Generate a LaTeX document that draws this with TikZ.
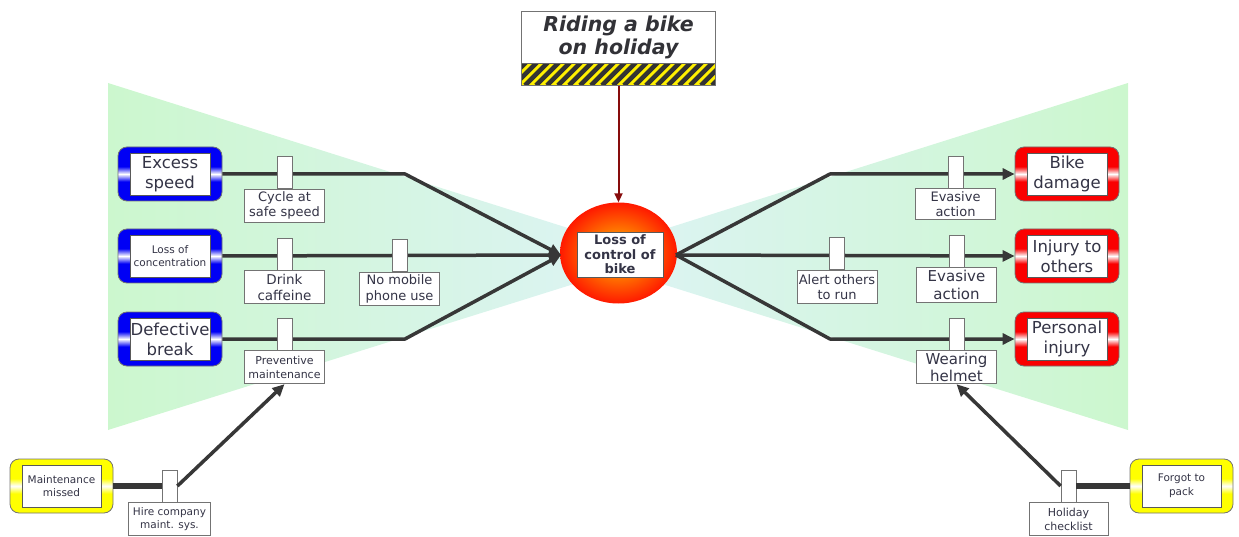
\documentclass[tikz,border=0pt]{standalone}
\usepackage{fontspec}
\setmainfont{DejaVu Sans}
\usetikzlibrary{shapes.geometric,arrows.meta,calc}

\definecolor{txt}{RGB}{52,52,70}
\definecolor{titletxt}{RGB}{50,50,55}
\definecolor{bowgreen}{RGB}{204,247,206}
\definecolor{bowcyan}{RGB}{222,243,247}
\definecolor{linegray}{RGB}{55,55,55}
\definecolor{cblue}{RGB}{0,0,245}
\definecolor{cred}{RGB}{250,0,0}
\definecolor{cyellow}{RGB}{255,255,0}
\definecolor{hazyellow}{RGB}{255,240,0}
\definecolor{evred}{RGB}{135,12,12}
\definecolor{ballin}{RGB}{255,200,0}
\definecolor{ballmid}{RGB}{255,135,0}
\definecolor{ballout}{RGB}{255,25,0}

% frames: solid colour with a narrow white band across the middle
\pgfdeclareverticalshading{blueband}{100bp}{color(0bp)=(cblue); color(25bp)=(cblue); color(43bp)=(cblue); color(50bp)=(white); color(57bp)=(cblue); color(75bp)=(cblue); color(100bp)=(cblue)}
\pgfdeclareverticalshading{redband}{100bp}{color(0bp)=(cred); color(25bp)=(cred); color(43bp)=(cred); color(50bp)=(white); color(57bp)=(cred); color(75bp)=(cred); color(100bp)=(cred)}
\pgfdeclareverticalshading{yellowband}{100bp}{color(0bp)=(cyellow); color(25bp)=(cyellow); color(43bp)=(cyellow); color(50bp)=(white); color(57bp)=(cyellow); color(75bp)=(cyellow); color(100bp)=(cyellow)}
% glowing ball of the central event
\pgfdeclareradialshading{glowball}{\pgfpoint{0bp}{0bp}}{color(0bp)=(ballin); color(9bp)=(ballmid); color(25bp)=(ballout); color(50bp)=(ballout)}

\newcommand{\fs}[2]{\fontsize{#1}{#2}\selectfont}

\begin{document}
\begin{tikzpicture}[x=1pt,y=-1pt,
  frame/.style={rounded corners=9, minimum width=104, minimum height=54, inner sep=0, draw=black!55, line width=0.8},
  causebox/.style={frame, shading=blueband},
  consbox/.style={frame, shading=redband},
  escbox/.style={frame, shading=yellowband, minimum width=103},
  inbox/.style={draw=black!65, fill=white, line width=0.8, minimum width=80, minimum height=42, inner sep=0, align=center, text=txt},
  post/.style={draw=black!55, fill=white, line width=0.8, minimum width=15, minimum height=32, inner sep=0},
  lab/.style={draw=black!55, fill=white, line width=0.8, minimum width=80, minimum height=33, inner sep=0, align=center, text=txt},
  link/.style={draw=linegray, line width=3.5, line join=round},
  thick link/.style={draw=linegray, line width=5.5},
  arr/.style={-{Triangle[length=12pt,width=11pt]}},
]
\useasboundingbox (0,0) rectangle (1239,537);

% bow-tie background
\shade[left color=bowgreen, right color=bowcyan] (108,83) -- (660,257) -- (108,430) -- cycle;
\shade[left color=bowcyan, right color=bowgreen] (1128,83) -- (576,257) -- (1128,430) -- cycle;

% top event
\node[fill=white, minimum width=193, minimum height=51, inner sep=0, align=center,
      font=\fs{20.5}{23}\bfseries\itshape, text=titletxt] (ev) at (618.5,37.5) {Riding a bike\\on holiday};
\node[minimum width=193, minimum height=22, inner sep=0, anchor=north, fill=hazyellow,
      path picture={\foreach \i in {-30,-19,...,210}
        \draw[line width=4.5, black!80] ($(path picture bounding box.south west)+(\i,0)$) -- ++(24,-24);}] (evs) at (ev.south) {};
\draw[black!55, line width=1] (ev.north west) rectangle (evs.south east);
\draw[black!60, line width=0.8] (evs.north west) -- (evs.north east);

% central event
\node[ellipse, minimum width=117, minimum height=101, inner sep=0, shading=glowball] (top) at (618.5,253) {};
\draw[evred, line width=2, -{Triangle[length=9pt,width=8pt]}] (evs.south) -- (top.north);
\node[inbox, minimum width=86, minimum height=45, font=\fs{13}{14.5}\bfseries] (topt) at (620,254.5) {Loss of\\control of\\bike};

% threats
\node[causebox] (c1) at (170,174) {};
\node[inbox, font=\fs{16.5}{20}] (c1t) at (c1.center) {Excess\\speed};
\node[causebox] (c2) at (170,256) {};
\node[inbox, font=\fs{10.5}{13.5}] (c2t) at (c2.center) {Loss of\\concentration};
\node[causebox] (c3) at (170,339) {};
\node[inbox, font=\fs{16.5}{20}] (c3t) at (c3.center) {Defective\\break};

% consequences
\node[consbox] (r1) at (1067,174) {};
\node[inbox, font=\fs{16.5}{20}] (r1t) at (r1.center) {Bike\\damage};
\node[consbox] (r2) at (1067,256) {};
\node[inbox, font=\fs{16.5}{20}] (r2t) at (r2.center) {Injury to\\others};
\node[consbox] (r3) at (1067,339) {};
\node[inbox, font=\fs{16.5}{20}] (r3t) at (r3.center) {Personal\\injury};

% escalation factors
\node[escbox] (m1) at (61.5,486) {};
\node[inbox, minimum width=79, font=\fs{10.5}{13.5}] (m1t) at (m1.center) {Maintenance\\missed};
\node[escbox] (f1) at (1181.5,486) {};
\node[inbox, minimum width=79, font=\fs{10.5}{13.5}] (f1t) at (f1.center) {Forgot to\\pack};

% bends of the pathways
\coordinate (k1) at (405,174);
\coordinate (k3) at (405,339);
\coordinate (k4) at (830,174);
\coordinate (k6) at (830,339);
\coordinate (tw) at (561,255);
\coordinate (te) at (676,255);

% pathways
\draw[link, arr] (c1.east) -- (k1) -- (tw);
\draw[link, arr] (c2.east) -- (tw);
\draw[link, arr] (c3.east) -- (k3) -- (tw);
\draw[link, arr] (te) -- (k4) -- (r1.west);
\draw[link, arr] (te) -- (r2.west);
\draw[link, arr] (te) -- (k6) -- (r3.west);

% barriers, left
\node[post] (p1) at (284.5,172.5) {};
\node[lab, anchor=north, font=\fs{13}{15}] (b1) at (p1.south) {Cycle at\\safe speed};
\node[post] (p2) at (284.5,254) {};
\node[lab, anchor=north, font=\fs{13.5}{16}] (b2) at (p2.south) {Drink\\caffeine};
\node[post] (p3) at (399.5,255.5) {};
\node[lab, anchor=north, font=\fs{13}{16}] (b3) at (p3.south) {No mobile\\phone use};
\node[post] (p4) at (284.5,334) {};
\node[lab, anchor=north, font=\fs{11}{13.5}] (b4) at (p4.south) {Preventive\\maintenance};

% barriers, right
\node[post] (p5) at (955.5,172) {};
\node[lab, anchor=north, minimum height=31, font=\fs{13}{15}] (b5) at (p5.south) {Evasive\\action};
\node[post] (p6) at (837,253.5) {};
\node[lab, anchor=north, font=\fs{13}{15}] (b6) at (p6.south) {Alert others\\to run};
\node[post] (p7) at (956.5,251) {};
\node[lab, anchor=north, minimum height=35, font=\fs{15}{18}] (b7) at (p7.south) {Evasive\\action};
\node[post] (p8) at (956.5,334) {};
\node[lab, anchor=north, minimum height=33, font=\fs{15}{16.5}] (b8) at (p8.south) {Wearing\\helmet};

% escalation barriers
\node[post] (ph) at (169.5,486) {};
\node[lab, anchor=north, minimum width=82, minimum height=33, font=\fs{10.5}{13.5}] (bh) at (ph.south) {Hire company\\maint. sys.};
\node[post] (pc) at (1068.5,486) {};
\node[lab, anchor=north, minimum width=79, minimum height=33, font=\fs{11}{14}] (bc) at (pc.south) {Holiday\\checklist};

% escalation links
\draw[thick link] (m1.east) -- (ph.west);
\draw[link, arr] (ph.east) -- (b4.south);
\draw[thick link] (f1.west) -- (pc.east);
\draw[link, arr] (pc.west) -- (b8.south);
\end{tikzpicture}
\end{document}
